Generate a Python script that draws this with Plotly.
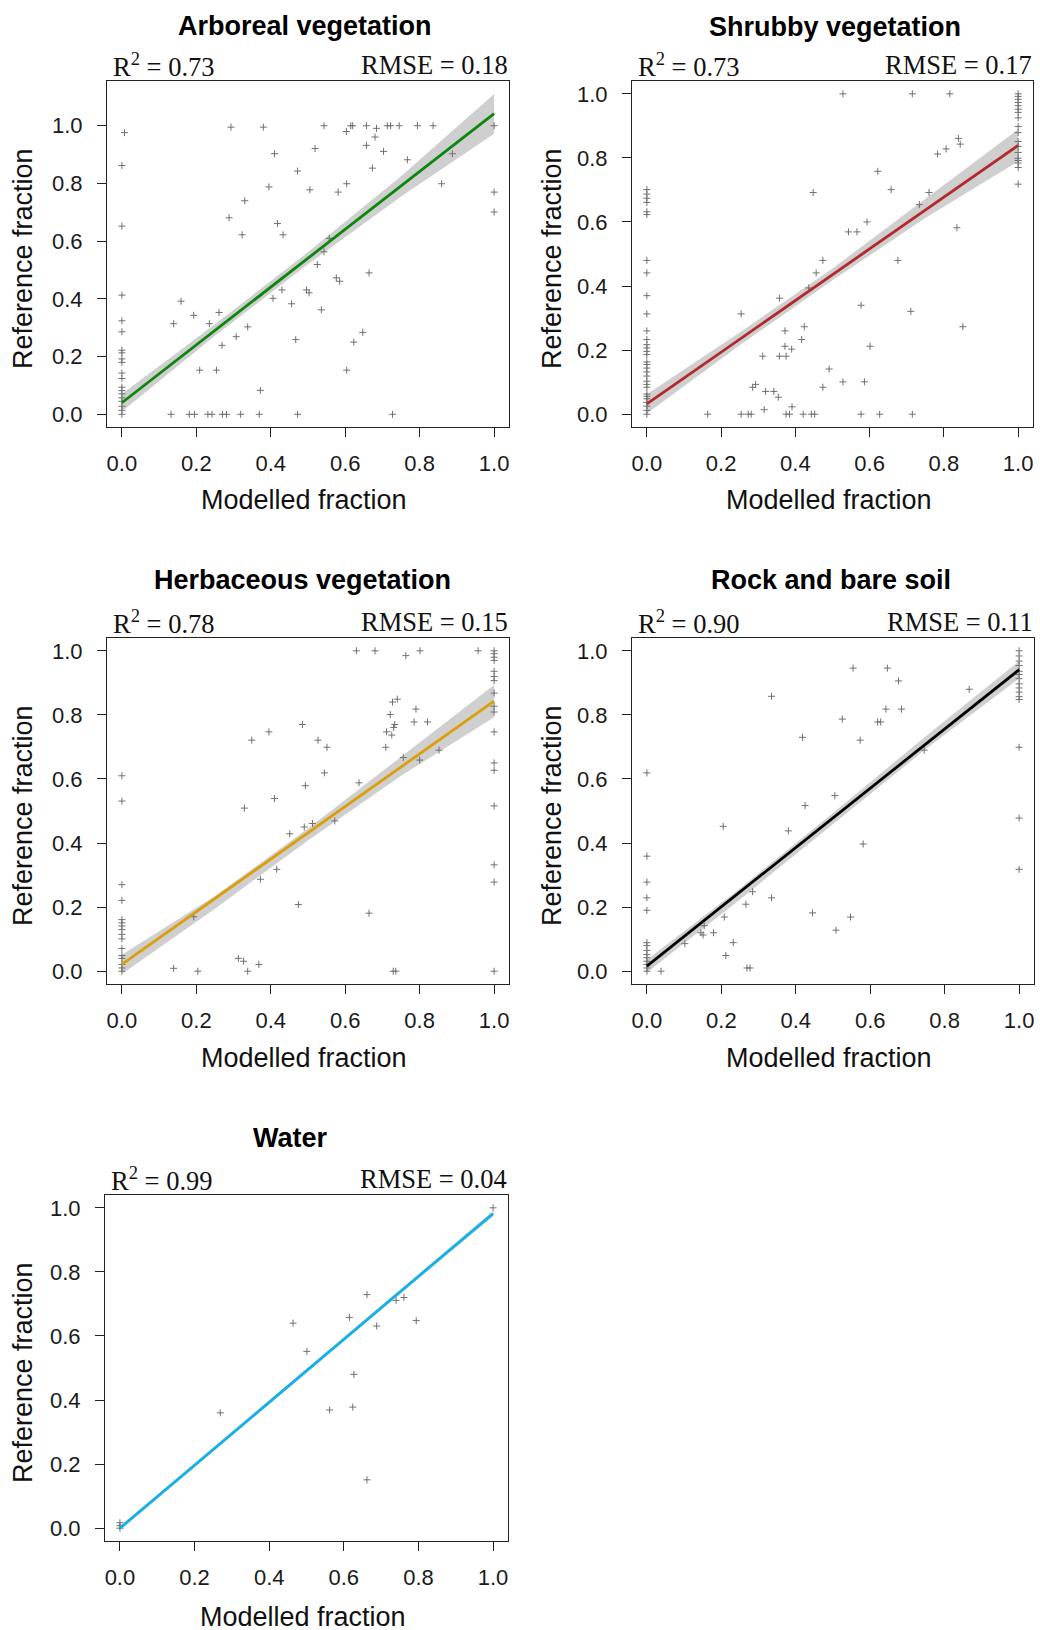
import plotly.graph_objects as go

W, H = 1040, 1630

# ---------------- data ----------------
titles = ["Arboreal vegetation", "Shrubby vegetation", "Herbaceous vegetation",
          "Rock and bare soil", "Water"]
r2_vals = ["0.73", "0.73", "0.78", "0.90", "0.99"]
rmse_vals = ["0.18", "0.17", "0.15", "0.11", "0.04"]
line_colors = ["#0c860c", "#b3282c", "#dc9e0a", "#000000", "#14b0ea"]

tick_vals = [0.0, 0.2, 0.4, 0.6, 0.8, 1.0]
tick_text = ["0.0", "0.2", "0.4", "0.6", "0.8", "1.0"]

# Arboreal
arb_mod = [0, 0, 0, 0, 0, 0, 0, 0, 0, 0, 0, 0, 0, 0, 0, 0, 0, 0, 0,
           0.007, 0.293, 0.380, 0.543, 0.603, 0.615, 0.620, 0.657, 0.684, 0.713, 0.722, 0.745, 0.794, 0.836, 1.0,
           0.519, 0.410, 0.657, 0.680, 0.703, 0.767, 0.673, 0.472, 0.888, 0.859, 0.604, 0.395, 0.505, 0.581, 0.330, 1.0, 1.0,
           0.288, 0.418, 0.323, 0.433, 0.557, 0.543, 0.525, 0.576, 0.585, 0.664, 0.496, 0.503, 0.430, 0.406, 0.456, 0.536,
           0.159, 0.193, 0.261, 0.139, 0.235, 0.338, 0.307, 0.467, 0.269, 0.647, 0.623, 0.209, 0.254, 0.604, 0.372,
           0.132, 0.181, 0.195, 0.231, 0.242, 0.270, 0.281, 0.319, 0.369, 0.472, 0.727]
arb_ref = [0.862, 0.652, 0.413, 0.324, 0.286, 0.222, 0.213, 0.192, 0.180, 0.143, 0.124, 0.094, 0.082, 0.071, 0.057, 0.045, 0.028, 0.014, 0.0,
           0.976, 0.995, 0.995, 1.0, 0.980, 1.0, 1.0, 1.0, 0.991, 1.0, 1.0, 1.0, 1.0, 1.0, 1.0,
           0.921, 0.903, 0.932, 0.961, 0.911, 0.882, 0.853, 0.843, 0.903, 0.799, 0.799, 0.788, 0.778, 0.770, 0.740, 0.770, 0.701,
           0.681, 0.661, 0.622, 0.622, 0.610, 0.563, 0.519, 0.473, 0.461, 0.490, 0.431, 0.421, 0.431, 0.402, 0.383, 0.362,
           0.392, 0.343, 0.353, 0.314, 0.314, 0.303, 0.269, 0.259, 0.239, 0.284, 0.250, 0.153, 0.153, 0.153, 0.083,
           0, 0, 0, 0, 0, 0, 0, 0, 0, 0, 0]

# Shrubby
shr_mod = [0, 0, 0, 0, 0, 0, 0, 0, 0, 0, 0, 0, 0, 0, 0, 0, 0, 0, 0, 0, 0, 0, 0, 0, 0, 0, 0, 0, 0, 0, 0,
           1, 1, 1, 1, 1, 1, 1, 1, 1, 1, 1, 1, 1, 1, 1, 1, 1, 1,
           0.528, 0.715, 0.816, 0.839, 0.844, 0.806, 0.783, 0.622, 0.658, 0.448, 0.760, 0.734, 0.593, 0.835,
           0.543, 0.566, 0.474, 0.676, 0.456, 0.436, 0.357, 0.577, 0.254, 0.711, 0.424, 0.851, 0.372, 0.417,
           0.372, 0.390, 0.601, 0.312, 0.357, 0.375, 0.491, 0.528, 0.586, 0.285, 0.293, 0.474, 0.320, 0.342,
           0.354, 0.316, 0.391,
           0.164, 0.254, 0.273, 0.281, 0.375, 0.384, 0.421, 0.443, 0.452, 0.577, 0.627, 0.715]
shr_ref = [0.701, 0.687, 0.674, 0.661, 0.632, 0.623, 0.480, 0.441, 0.370, 0.313, 0.260, 0.233, 0.217, 0.207, 0.196, 0.186,
           0.163, 0.155, 0.144, 0.132, 0.119, 0.103, 0.093, 0.084, 0.063, 0.056, 0.048, 0.037, 0.025, 0.012, 0.0,
           1.0, 0.992, 0.983, 0.973, 0.963, 0.952, 0.942, 0.925, 0.898, 0.879, 0.851, 0.836, 0.817, 0.799, 0.792, 0.784, 0.770, 0.718,
           1.0, 1.0, 1.0, 0.861, 0.843, 0.828, 0.812, 0.758, 0.701, 0.692, 0.692, 0.654, 0.600, 0.582,
           0.569, 0.569, 0.480, 0.480, 0.441, 0.394, 0.362, 0.340, 0.313, 0.321, 0.273, 0.273, 0.260, 0.233,
           0.212, 0.203, 0.212, 0.181, 0.181, 0.181, 0.141, 0.101, 0.101, 0.084, 0.093, 0.084, 0.071, 0.071,
           0.053, 0.014, 0.023,
           0, 0, 0, 0, 0, 0, 0, 0, 0, 0, 0, 0]

# Herbaceous
her_mod = [0, 0, 0, 0, 0, 0, 0, 0, 0, 0, 0, 0, 0, 0, 0, 0,
           1, 1, 1, 1, 1, 1, 1, 1, 1, 1, 1, 1, 1, 1, 1, 1, 1,
           0.630, 0.680, 0.801, 0.957, 0.763, 0.727, 0.740, 0.721, 0.790, 0.785, 0.821, 0.733, 0.730, 0.711,
           0.725, 0.709, 0.756, 0.852, 0.800, 0.485, 0.395, 0.349, 0.527, 0.551, 0.544, 0.637, 0.493, 0.410,
           0.329, 0.572, 0.512, 0.490, 0.451, 0.416, 0.372, 0.474, 0.664, 0.193, 0.313, 0.327, 0.368, 0.139,
           0.204, 0.338, 0.729, 0.736]
her_ref = [0.610, 0.531, 0.270, 0.221, 0.161, 0.151, 0.141, 0.130, 0.115, 0.101, 0.071, 0.049, 0.040, 0.021, 0.010, 0.0,
           1.0, 0.991, 0.980, 0.970, 0.936, 0.920, 0.907, 0.868, 0.827, 0.809, 0.747, 0.650, 0.627, 0.516, 0.332, 0.278, 0.0,
           1.0, 1.0, 1.0, 1.0, 0.985, 0.840, 0.849, 0.801, 0.818, 0.778, 0.778, 0.770, 0.761, 0.747,
           0.737, 0.699, 0.667, 0.690, 0.659, 0.770, 0.747, 0.721, 0.721, 0.699, 0.619, 0.588, 0.579, 0.539,
           0.509, 0.469, 0.461, 0.450, 0.429, 0.318, 0.287, 0.208, 0.181, 0.170, 0.040, 0.031, 0.021, 0.009,
           0, 0, 0, 0]

# Rock and bare soil
rock_mod = [0, 0, 0, 0, 0, 0, 0, 0, 0, 0, 0, 0, 0, 0,
            1, 1, 1, 1, 1, 1, 1, 1, 1, 1, 1, 1, 1, 1, 1,
            0.554, 0.646, 0.676, 0.335, 0.866, 0.525, 0.620, 0.628, 0.642, 0.684, 0.573, 0.418, 0.745,
            0.505, 0.425, 0.205, 0.380, 0.581, 0.335, 0.284, 0.266, 0.445, 0.208, 0.547, 0.179, 0.154,
            0.145, 0.151, 0.508, 0.232, 0.212, 0.102, 0.269, 0.277, 0.038]
rock_ref = [0.619, 0.359, 0.278, 0.229, 0.190, 0.089, 0.080, 0.065, 0.052, 0.042, 0.031, 0.021, 0.010, 0.0,
            1.0, 0.984, 0.968, 0.954, 0.936, 0.926, 0.913, 0.897, 0.884, 0.871, 0.857, 0.848, 0.699, 0.478, 0.318,
            0.946, 0.946, 0.906, 0.858, 0.880, 0.787, 0.778, 0.778, 0.818, 0.818, 0.721, 0.730, 0.690,
            0.548, 0.517, 0.452, 0.438, 0.397, 0.229, 0.248, 0.209, 0.182, 0.169, 0.169, 0.120, 0.142,
            0.120, 0.113, 0.128, 0.089, 0.049, 0.086, 0.010, 0.010, 0.0]

# Water
wat_mod = [0, 0, 0, 1.0, 0.662, 0.740, 0.761, 0.615, 0.688, 0.794, 0.464, 0.501, 0.627, 0.562, 0.624, 0.269, 0.662]
wat_ref = [0.017, 0.008, 0.0, 1.0, 0.729, 0.711, 0.720, 0.658, 0.631, 0.648, 0.640, 0.552, 0.480, 0.369, 0.378, 0.360, 0.151]

mod_sets = [arb_mod, shr_mod, her_mod, rock_mod, wat_mod]
ref_sets = [arb_ref, shr_ref, her_ref, rock_ref, wat_ref]

# fitted lines (value at modelled = 0 and 1)
fit_x = [0.0, 1.0]
fit_y = [[0.040, 1.042], [0.032, 0.839], [0.021, 0.843], [0.016, 0.941], [0.000, 0.982]]

# confidence bands
band_x = [0.0, 0.25, 0.5, 0.75, 1.0]
band_lo = [[0.010, 0.272, 0.520, 0.755, 0.972],
           [0.002, 0.215, 0.418, 0.612, 0.789],
           [-0.009, 0.195, 0.408, 0.610, 0.793],
           [-0.004, 0.224, 0.460, 0.694, 0.914],
           [-0.006, 0.240, 0.486, 0.733, 0.974]]
band_hi = [[0.070, 0.312, 0.562, 0.825, 1.110],
           [0.062, 0.255, 0.455, 0.672, 0.889],
           [0.051, 0.235, 0.445, 0.670, 0.893],
           [0.036, 0.258, 0.494, 0.734, 0.968],
           [0.006, 0.252, 0.498, 0.745, 0.990]]

y_ranges = [[-0.044, 1.155], [-0.04, 1.04], [-0.04, 1.04], [-0.04, 1.04], [-0.04, 1.04]]

# ---------------- layout geometry (pixels) ----------------
boxes = [(107, 509, 81, 427), (632, 1033, 81, 427),
         (107, 509, 638, 984), (632, 1034, 638, 984),
         (105, 508, 1195, 1541)]
title_pos = [(305, 26), (835, 27), (302, 580), (831, 580), (290, 1138)]
ylab_x = [23, 552, 23, 552, 23]
xlab_y = [500, 500, 1058, 1058, 1617]

SANS = "Liberation Sans, Arial, sans-serif"
SERIF = "Liberation Serif, Times New Roman, serif"

fig = go.Figure()
annotations = []
layout_axes = {}

def px(x):
    return x / W

def py(y):
    return 1 - y / H

for i in range(5):
    ax = "" if i == 0 else str(i + 1)
    xref, yref = "x" + ax, "y" + ax
    l, r, t, b = boxes[i]

    # band
    fig.add_trace(go.Scatter(
        x=band_x + band_x[::-1], y=band_hi[i] + band_lo[i][::-1],
        xaxis=xref, yaxis=yref, mode="lines", fill="toself",
        fillcolor="rgba(195,195,195,0.8)", line=dict(width=0), hoverinfo="skip",
        showlegend=False))
    # points
    fig.add_trace(go.Scatter(
        x=mod_sets[i], y=ref_sets[i], xaxis=xref, yaxis=yref, mode="markers",
        marker=dict(symbol="cross-thin", size=5, color="#707070",
                    line=dict(width=1, color="#707070")),
        showlegend=False))
    # fit line
    fig.add_trace(go.Scatter(
        x=fit_x, y=fit_y[i], xaxis=xref, yaxis=yref, mode="lines",
        line=dict(color=line_colors[i], width=2.8), showlegend=False))

    common = dict(
        showline=True, mirror=True, linecolor="#222222", linewidth=1.2,
        ticks="outside", ticklen=9, tickwidth=1, tickcolor="#222222",
        tickvals=tick_vals, ticktext=tick_text, showgrid=False, zeroline=False,
        tickfont=dict(family=SANS, size=22, color="#1a1a1a"),
    )
    layout_axes["xaxis" + ax] = dict(common, domain=[px(l), px(r)], range=[-0.04, 1.04],
                                     anchor=yref, ticklabelstandoff=7)
    layout_axes["yaxis" + ax] = dict(common, domain=[py(b), py(t)], range=y_ranges[i],
                                     anchor=xref, ticklabelstandoff=10)

    # title
    annotations.append(dict(x=px(title_pos[i][0]), y=py(title_pos[i][1]), xref="paper", yref="paper",
                            text="<b>" + titles[i] + "</b>", showarrow=False,
                            font=dict(family=SANS, size=27, color="#000000"),
                            xanchor="center", yanchor="middle"))
    # R2
    annotations.append(dict(x=px(l + 4), y=py(t - 16), xref="paper", yref="paper",
                            text="R<sup>2</sup> = " + r2_vals[i], showarrow=False,
                            font=dict(family=SERIF, size=26.5, color="#111111"),
                            xanchor="left", yanchor="middle"))
    # RMSE
    annotations.append(dict(x=px(r + 1), y=py(t - 16), xref="paper", yref="paper",
                            text="RMSE = " + rmse_vals[i], showarrow=False,
                            font=dict(family=SERIF, size=26.5, color="#111111"),
                            xanchor="right", yanchor="middle"))
    # axis titles
    annotations.append(dict(x=px((l + r) / 2 - 4), y=py(xlab_y[i]), xref="paper", yref="paper",
                            text="Modelled fraction", showarrow=False,
                            font=dict(family=SANS, size=27, color="#111111"),
                            xanchor="center", yanchor="middle"))
    annotations.append(dict(x=px(ylab_x[i]), y=py((t + b) / 2 + 5), xref="paper", yref="paper",
                            text="Reference fraction", showarrow=False, textangle=-90,
                            font=dict(family=SANS, size=27, color="#111111"),
                            xanchor="center", yanchor="middle"))

fig.update_layout(
    width=W, height=H, margin=dict(l=0, r=0, t=0, b=0),
    paper_bgcolor="white", plot_bgcolor="white",
    annotations=annotations, showlegend=False, **layout_axes)

fig.write_html("out.html", config={"displayModeBar": False},
               post_script="document.body.style.margin='0px';document.body.style.overflow='hidden';")
